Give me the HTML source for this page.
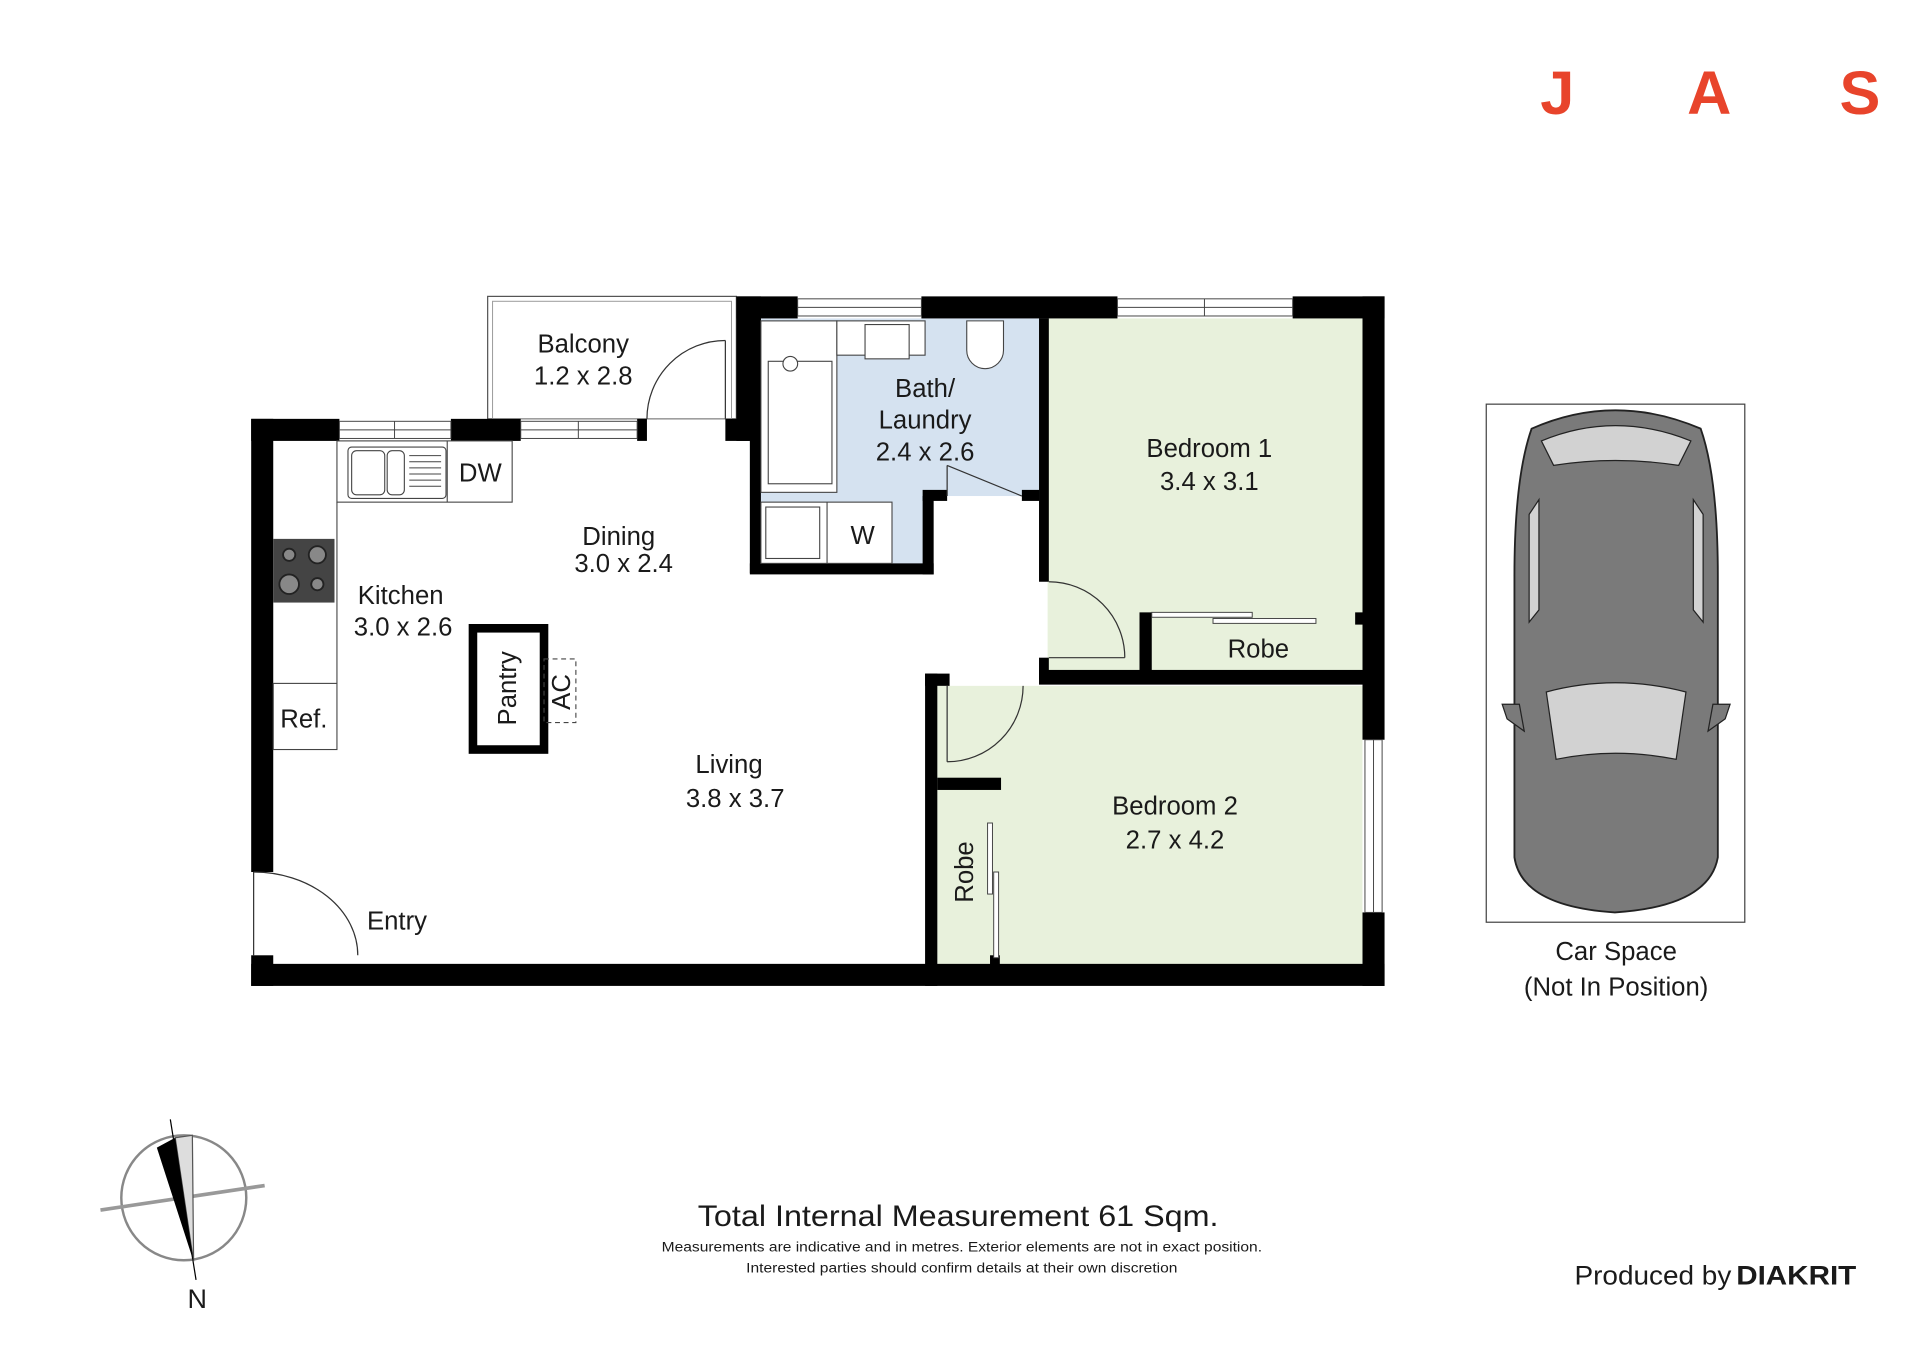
<!DOCTYPE html>
<html><head><meta charset="utf-8"><style>
html,body{margin:0;padding:0;background:#fff;}
svg{display:block;}
text{font-family:"Liberation Sans",Arial,sans-serif;fill:#1a1a1a;}
</style></head><body>
<svg width="1920" height="1357" viewBox="0 0 1567 1108" preserveAspectRatio="none" xmlns="http://www.w3.org/2000/svg">
<rect width="1600" height="1120" fill="#fff"/>
<g font-size="50" font-weight="bold" fill="#e8442b" text-anchor="middle">
<text x="1271" y="93" style="fill:#e8442b">J</text>
<text x="1395" y="93" style="fill:#e8442b">A</text>
<text x="1518" y="93" style="fill:#e8442b">S</text>
</g>
<rect x="398" y="242" width="203" height="100" fill="#fff" stroke="#555" stroke-width="1"/>
<rect x="402" y="246" width="195" height="96" fill="none" stroke="#999" stroke-width="0.8"/>
<rect x="612" y="260" width="236" height="145" fill="#d5e2f0"/>
<rect x="612" y="400" width="148" height="62" fill="#d5e2f0"/>
<rect x="855" y="260" width="257" height="290" fill="#e8f1dc"/>
<rect x="765" y="560" width="347" height="227" fill="#e8f1dc"/>
<g fill="#000">
<rect x="205" y="342" width="18" height="370"/>
<rect x="205" y="780" width="18" height="25"/>
<rect x="205" y="787" width="925" height="18"/>
<rect x="205" y="342" width="72" height="18"/>
<rect x="368" y="342" width="57" height="18"/>
<rect x="520" y="342" width="8" height="18"/>
<rect x="592" y="342" width="20" height="18"/>
<rect x="601" y="242" width="20" height="118"/>
<rect x="601" y="242" width="50" height="18"/>
<rect x="752" y="242" width="160" height="18"/>
<rect x="1055" y="242" width="75" height="18"/>
<rect x="1112" y="242" width="18" height="362"/>
<rect x="1112" y="745" width="18" height="60"/>
<rect x="612" y="260" width="9" height="208"/>
<rect x="612" y="460" width="150" height="9"/>
<rect x="753" y="405" width="9" height="64"/>
<rect x="753" y="400" width="20" height="9"/>
<rect x="834" y="400" width="14" height="9"/>
<rect x="848" y="260" width="8" height="215"/>
<rect x="848" y="537" width="8" height="18"/>
<rect x="755" y="550" width="10" height="255"/>
<rect x="755" y="550" width="20" height="10"/>
<rect x="848" y="547" width="264" height="12"/>
<rect x="930" y="500" width="10" height="55"/>
<rect x="1106" y="500" width="6" height="10"/>
<rect x="765" y="635" width="52" height="10"/>
<rect x="808" y="780" width="8" height="8"/>
</g>
<g fill="#fff" stroke="#444" stroke-width="0.8">
<rect x="277" y="344" width="91" height="14"/><line x1="277" y1="351" x2="368" y2="351"/><line x1="322" y1="344" x2="322" y2="358"/>
<rect x="425" y="344" width="95" height="14"/><line x1="425" y1="351" x2="520" y2="351"/><line x1="472" y1="344" x2="472" y2="358"/>
<rect x="651" y="244" width="101" height="14"/><line x1="651" y1="251" x2="752" y2="251"/>
<rect x="912" y="244" width="143" height="14"/><line x1="912" y1="251" x2="1055" y2="251"/><line x1="983" y1="244" x2="983" y2="258"/>
<rect x="1114" y="604" width="14" height="141"/><line x1="1121" y1="604" x2="1121" y2="745"/>
</g>
<g fill="none" stroke="#333" stroke-width="1">
<path d="M207 712 A85 68 0 0 1 292 780"/><line x1="207" y1="712" x2="207" y2="780"/>
<path d="M528 342 A64 64 0 0 1 592 278"/><line x1="592" y1="278" x2="592" y2="342"/>
<line x1="773" y1="380" x2="834" y2="405"/><line x1="773" y1="380" x2="773" y2="405"/>
<path d="M856 475 A62 62 0 0 1 918 537"/><line x1="856" y1="537" x2="918" y2="537"/>
<path d="M773 622 A62 62 0 0 0 835 560"/><line x1="773" y1="560" x2="773" y2="622"/>
</g>
<g fill="#fff" stroke="#444" stroke-width="0.8">
<rect x="940" y="500" width="82" height="4"/><rect x="990" y="505" width="84" height="4"/>
<rect x="806" y="672" width="4" height="58"/><rect x="811" y="712" width="4" height="70"/>
</g>
<g fill="#fff" stroke="#444" stroke-width="0.9">
<rect x="275" y="360" width="143" height="50"/>
<line x1="275" y1="410" x2="275" y2="612"/>
<rect x="284" y="365" width="80" height="42" rx="3"/>
<rect x="287" y="368" width="27" height="36" rx="4"/><rect x="316" y="368" width="14" height="36" rx="4"/>
<line x1="365" y1="360" x2="365" y2="410"/>
<rect x="223" y="558" width="52" height="54"/>
<rect x="386" y="513" width="58" height="99" fill="none" stroke="#000" stroke-width="7"/>
<rect x="444" y="538" width="26" height="52" fill="none" stroke-dasharray="4 3"/>
</g>
<g stroke="#444" stroke-width="0.8">
<line x1="334" y1="372" x2="360" y2="372"/><line x1="334" y1="377" x2="360" y2="377"/><line x1="334" y1="382" x2="360" y2="382"/><line x1="334" y1="387" x2="360" y2="387"/><line x1="334" y1="392" x2="360" y2="392"/><line x1="334" y1="397" x2="360" y2="397"/>
</g>
<rect x="223" y="440" width="50" height="52" fill="#444"/>
<g fill="#888" stroke="#222" stroke-width="1.5">
<circle cx="236" cy="453" r="5"/><circle cx="259" cy="453" r="7"/><circle cx="236" cy="477" r="8"/><circle cx="259" cy="477" r="5"/>
</g>
<g fill="#fff" stroke="#444" stroke-width="0.9">
<rect x="621" y="262" width="62" height="140"/>
<rect x="627" y="295" width="52" height="100"/>
<rect x="683" y="262" width="72" height="28"/>
<rect x="706" y="265" width="36" height="28"/>
<path d="M789 262 h30 v24 a15 15 0 0 1 -30 0 z"/>
<rect x="621" y="410" width="107" height="50"/>
<rect x="625" y="414" width="44" height="42"/>
<line x1="675" y1="410" x2="675" y2="460"/>
<circle cx="645" cy="297" r="6"/>
</g>
<g font-size="21" text-anchor="middle">
<text x="476" y="288">Balcony</text><text x="476" y="314">1.2 x 2.8</text>
<text x="755" y="324">Bath/</text><text x="755" y="350">Laundry</text><text x="755" y="376">2.4 x 2.6</text>
<text x="987" y="373">Bedroom 1</text><text x="987" y="400">3.4 x 3.1</text>
<text x="1027" y="537">Robe</text>
<text x="505" y="445">Dining</text><text x="509" y="467">3.0 x 2.4</text>
<text x="327" y="493">Kitchen</text><text x="329" y="519">3.0 x 2.6</text>
<text x="392" y="393">DW</text><text x="704" y="444">W</text>
<text x="248" y="594">Ref.</text>
<text x="595" y="631">Living</text><text x="600" y="659">3.8 x 3.7</text>
<text x="959" y="665">Bedroom 2</text><text x="959" y="693">2.7 x 4.2</text>
<text x="324" y="759">Entry</text>
<text x="1319" y="784">Car Space</text><text x="1319" y="813">(Not In Position)</text>
<text transform="translate(421 562) rotate(-90)">Pantry</text>
<text transform="translate(465 565) rotate(-90)">AC</text>
<text transform="translate(794 712) rotate(-90)">Robe</text>
</g>
<rect x="1213" y="330" width="211" height="423" fill="#fff" stroke="#444" stroke-width="1"/>
<path d="M1250 350 Q1318 320 1388 350 Q1402 390 1402 470 L1402 700 Q1395 740 1318 745 Q1242 740 1236 700 L1236 470 Q1236 390 1250 350 Z" fill="#7a7a7a" stroke="#222" stroke-width="1.5"/>
<path d="M1258 360 Q1318 335 1380 360 L1370 380 Q1318 372 1268 380 Z" fill="#d2d2d2" stroke="#222"/>
<path d="M1262 565 Q1318 550 1376 565 L1368 620 Q1318 610 1270 620 Z" fill="#d2d2d2" stroke="#222"/>
<path d="M1240 575 l-14 0 l4 12 l14 10 z M1398 575 l14 0 l-4 12 l-14 10 z" fill="#7a7a7a" stroke="#222"/>
<path d="M1248 420 l8 -12 l0 90 l-8 10 z M1390 420 l-8 -12 l0 90 l8 10 z" fill="#d2d2d2" stroke="#222"/>
<circle cx="150" cy="978" r="51" fill="none" stroke="#888" stroke-width="2"/>
<line x1="82" y1="988" x2="216" y2="968" stroke="#999" stroke-width="3"/>
<line x1="139" y1="914" x2="160" y2="1045" stroke="#000" stroke-width="1"/>
<path d="M143 929 L157 927 L158 1030 Z" fill="#ddd" stroke="#555" stroke-width="1"/>
<path d="M128 937 L143 929 L158 1030 Z" fill="#000"/>
<text x="161" y="1068" font-size="22" text-anchor="middle">N</text>
<text x="782" y="1001" font-size="24" text-anchor="middle" textLength="425" lengthAdjust="spacingAndGlyphs">Total Internal Measurement 61 Sqm.</text>
<text x="785" y="1022" font-size="11.5" text-anchor="middle" textLength="490" lengthAdjust="spacingAndGlyphs">Measurements are indicative and in metres. Exterior elements are not in exact position.</text>
<text x="785" y="1039" font-size="11.5" text-anchor="middle" textLength="352" lengthAdjust="spacingAndGlyphs">Interested parties should confirm details at their own discretion</text>
<text x="1285" y="1049" font-size="22" textLength="128" lengthAdjust="spacingAndGlyphs">Produced by</text>
<text x="1417" y="1049" font-size="22" font-weight="bold" textLength="98" lengthAdjust="spacingAndGlyphs">DIAKRIT</text>
</svg>
</body></html>
